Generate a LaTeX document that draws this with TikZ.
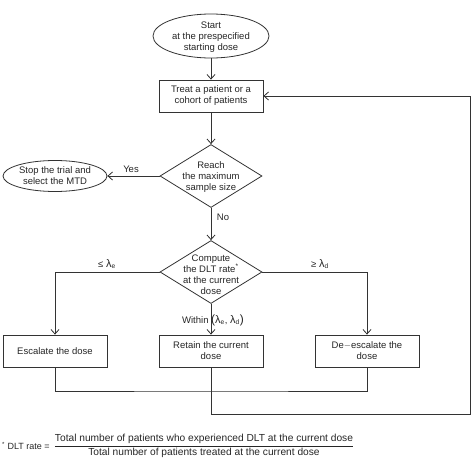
\documentclass[tikz,border=0pt]{standalone}
\usepackage{fontspec}
\setmainfont{Liberation Sans}
\usetikzlibrary{shapes.geometric,arrows.meta}
\newcommand{\biglam}{{\fontsize{11}{11}\selectfont λ}}
\tikzset{
  base/.style={draw=black!80, line width=0.8pt},
  txt/.style={align=center, font=\fontsize{9.5}{11}\selectfont, inner sep=0pt, text=black!85},
  boxnode/.style={base, rectangle, minimum width=104pt, minimum height=32pt, inner sep=0pt, txt},
  ovalnode/.style={base, ellipse, inner sep=0pt},
  decnode/.style={base, diamond, minimum width=102pt, minimum height=63pt, inner sep=0pt, aspect=1.6},
  conn/.style={draw=black!80, line width=0.8pt},
  arr/.style={conn, -{Straight Barb[length=4.5pt, width=8pt, line width=0.8pt]}},
  lab/.style={txt}
}
\begin{document}
\begin{tikzpicture}[x=1pt, y=-1pt]
\useasboundingbox (0,0) rectangle (474,474);
\node[ovalnode, minimum width=116pt, minimum height=44pt,
  label={[txt, yshift=-1pt]center:Start\\at the prespecified\\starting dose}] (start) at (211,36) {};
\node[boxnode] (treat) at (211,96) {Treat a patient or a\\cohort of patients};
\node[decnode, label={[txt, yshift=-1pt]center:Reach\\the maximum\\sample size}] (reach) at (211,176) {};
\node[ovalnode, minimum width=104pt, minimum height=31pt,
  label={[txt]center:Stop the trial and\\select the MTD}] (stop) at (55,176) {};
\node[decnode, label={[txt, yshift=-3pt]center:Compute\\the DLT rate\textsuperscript{*}\\at the current\\dose}] (dlt) at (211,272) {};
\node[boxnode] (esc) at (55,351) {Escalate the dose};
\node[boxnode] (ret) at (211,351) {Retain the current\\dose};
\node[boxnode] (desc) at (367,351) {De\(-\)escalate the\\dose};
\coordinate (merge) at (211,391);
\coordinate (loop) at (470,414);

\draw[arr] (start) -- (treat);
\draw[arr] (treat) -- (reach);
\draw[arr] (reach.west) -- (stop.east);
\draw[arr] (reach.south) -- (dlt.north);
\draw[arr] (dlt.west) -| (esc.north);
\draw[arr] (dlt.east) -| (desc.north);
\draw[arr] (dlt.south) -- (ret.north);
\draw[conn] (esc.south) |- (merge) -| (desc.south);
\draw[arr] (ret.south) |- (loop) |- (treat.east);

\node[lab] (yes) at (131,169) {Yes};
\node[lab] (no) at (223,217) {No};
\node[lab] (le) at (107,264) {≤ \biglam\textsubscript{e}};
\node[lab] (ge) at (320,264) {≥ \biglam\textsubscript{d}};
\node[lab] (within) at (213,320) {Within {\large(}\biglam\textsubscript{e}, \biglam\textsubscript{d}{\large)}};

\node[lab, anchor=west, font=\fontsize{9}{11}\selectfont] (fnlab) at (2,446) {\textsuperscript{*} DLT rate =};
\node[lab, font=\fontsize{10.2}{12}\selectfont] (fnfrac) at (204,446) {$\displaystyle\frac{\mbox{Total number of patients who experienced DLT at the current dose}}{\mbox{Total number of patients treated at the current dose}}$};
\end{tikzpicture}
\end{document}
